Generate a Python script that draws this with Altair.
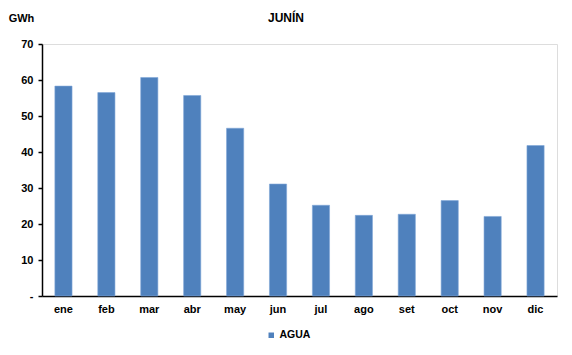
import altair as alt
import pandas as pd

months = ["ene", "feb", "mar", "abr", "may", "jun", "jul", "ago", "set", "oct", "nov", "dic"]
agua = [58.3, 56.5, 60.7, 55.7, 46.6, 31.1, 25.2, 22.4, 22.7, 26.5, 22.1, 41.8]
series = ["AGUA"] * len(months)
y_ticks = [0, 10, 20, 30, 40, 50, 60, 70]

df = pd.DataFrame({"mes": months, "valor": agua, "serie": series})
FONT = "Liberation Sans"

bars = alt.Chart(df).mark_bar(color="#4F81BD", stroke="#7FA6D6", strokeWidth=0.6).encode(
    x=alt.X("mes:N", sort=months,
            scale=alt.Scale(paddingInner=0.6, paddingOuter=0.3),
            axis=alt.Axis(title=None, labelAngle=0, ticks=False, labelPadding=7,
                          labelFont=FONT, labelFontSize=11, labelFontWeight="bold",
                          labelColor="black", domainColor="black", domainWidth=1.5)),
    y=alt.Y("valor:Q", scale=alt.Scale(domain=[0, 70], nice=False),
            axis=alt.Axis(title="GWh", titleAngle=0, titleX=-21, titleY=-26,
                          titleAlign="center", titleBaseline="middle",
                          titleFont=FONT, titleFontSize=11, titleFontWeight="bold",
                          titleColor="black",
                          values=y_ticks, grid=False, tickSize=4, tickColor="black",
                          tickWidth=1.5, labelPadding=5,
                          labelExpr="datum.value == 0 ? '-' : datum.label",
                          labelFont=FONT, labelFontSize=11, labelFontWeight="bold",
                          labelColor="black", domainColor="black", domainWidth=1.5)),
    color=alt.Color("serie:N", scale=alt.Scale(range=["#4F81BD"]),
                    legend=alt.Legend(title=None, orient="none", legendX=224, legendY=286,
                                      symbolType="square", symbolSize=30, labelOffset=3,
                                      labelFont=FONT, labelFontSize=10.5, labelFontWeight="bold",
                                      labelColor="black", symbolStrokeWidth=0)),
)

title = alt.Chart(pd.DataFrame({"t": ["JUNÍN"]})).mark_text(
    font=FONT, fontSize=12, fontWeight="bold", color="black", align="center", baseline="middle"
).encode(text="t:N", x=alt.value(244), y=alt.value(-26))

chart = alt.layer(bars, title).properties(
    width=515, height=252,
    padding={"left": 42, "top": 44, "right": 15, "bottom": 59},
    autosize=alt.AutoSizeParams(type="none"),
).configure_view(stroke=None).configure(background="white")

chart.save("out.html", embed_options={"renderer": "svg", "actions": False})
